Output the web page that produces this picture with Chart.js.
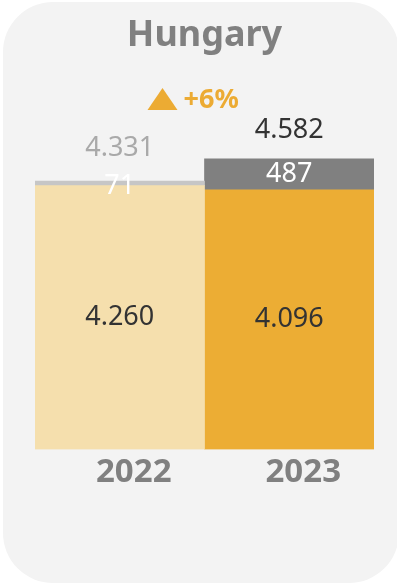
<!DOCTYPE html>
<html>
<head>
<meta charset="utf-8">
<script src="https://cdn.jsdelivr.net/npm/chart.js@4"></script>
<style>
  html, body { margin: 0; padding: 0; background: #ffffff; }
  #wrap { position: relative; width: 397px; height: 584px; overflow: hidden; }
  #card {
    position: absolute; left: 3px; top: 2px; width: 396px; height: 581px;
    background: #f3f3f3; border-radius: 50px;
  }
  #holder { position: absolute; left: 0; top: 0; width: 397px; height: 584px; }
</style>
</head>
<body>
<div id="wrap">
  <div id="card"></div>
  <div id="holder"><canvas id="chart"></canvas></div>
</div>
<script>
// Hungary: base volume plus the additional part, per year
const countryName = 'Hungary';
const years = ['2022', '2023'];
const baseValues = [4260, 4096];
const extraValues = [71, 487];
const totals = [4331, 4582];
const changeLabel = '+6%';

const baseColors = ['#f5dfad', '#ecad34'];
const extraColors = ['#c6c6c6', '#808080'];
const totalColors = ['#a9a9a9', '#333333'];

const fmt = v => v.toLocaleString('de-DE');
const FONT = "'Noto Sans', 'Open Sans', sans-serif";

// each year has its own value axis (y for 2022, y2 for 2023)
const axisFor = ['y', 'y2'];
const datasets = [];
years.forEach((yr, i) => {
  const only = arr => years.map((_, j) => (j === i ? arr[i] : null));
  datasets.push({
    label: 'base ' + yr, data: only(baseValues), yAxisID: axisFor[i],
    backgroundColor: baseColors[i], kind: 'base', year: i
  });
  datasets.push({
    label: 'extra ' + yr, data: only(extraValues), yAxisID: axisFor[i],
    backgroundColor: extraColors[i], kind: 'extra', year: i
  });
});

const valueLabels = {
  id: 'valueLabels',
  afterDatasetsDraw(chart) {
    const ctx = chart.ctx;
    ctx.save();
    ctx.textAlign = 'center';
    chart.data.datasets.forEach((ds, di) => {
      const meta = chart.getDatasetMeta(di);
      const i = ds.year;
      const bar = meta.data[i];
      if (!bar) return;
      const top = Math.min(bar.y, bar.base);
      const bottom = Math.max(bar.y, bar.base);
      const mid = (top + bottom) / 2;
      ctx.textBaseline = 'middle';
      if (ds.kind === 'base') {
        ctx.font = '400 27px ' + FONT;
        ctx.fillStyle = '#333333';
        ctx.fillText(fmt(baseValues[i]), bar.x, mid);
      } else {
        ctx.font = '400 27px ' + FONT;
        ctx.fillStyle = '#ffffff';
        ctx.fillText(fmt(extraValues[i]), bar.x, i === 0 ? mid + 3 : mid);
        ctx.textBaseline = 'alphabetic';
        ctx.fillStyle = totalColors[i];
        ctx.fillText(fmt(totals[i]), bar.x, top - (i === 0 ? 25 : 21));
      }
    });
    // change marker between the two years
    const x0 = chart.chartArea.left + (chart.chartArea.right - chart.chartArea.left) / 2 - 57;
    const yTop = 88, yBot = 110;
    ctx.fillStyle = '#ecab33';
    ctx.beginPath();
    ctx.moveTo(x0, yBot);
    ctx.lineTo(x0 + 15, yTop);
    ctx.lineTo(x0 + 30, yBot);
    ctx.closePath();
    ctx.fill();
    ctx.font = '700 27px ' + FONT;
    ctx.textAlign = 'left';
    ctx.textBaseline = 'alphabetic';
    ctx.fillText(changeLabel, x0 + 36, 108);
    ctx.restore();
  }
};

new Chart(document.getElementById('chart'), {
  type: 'bar',
  data: { labels: years, datasets },
  options: {
    responsive: true,
    maintainAspectRatio: false,
    animation: false,
    layout: { padding: { left: 35, right: 23, top: 0, bottom: 89 } },
    datasets: { bar: { categoryPercentage: 1, barPercentage: 1, borderWidth: 0 } },
    plugins: {
      legend: { display: false },
      tooltip: { enabled: false },
      title: {
        display: true, text: countryName, color: '#808080',
        font: { family: FONT, size: 36, weight: '700' },
        padding: { top: 14, bottom: 13 }
      }
    },
    scales: {
      x: {
        stacked: true,
        grid: { display: false, drawTicks: false },
        border: { display: false },
        ticks: {
          color: '#808080', padding: 3, labelOffset: 14,
          font: { family: FONT, size: 33, weight: '700' }
        }
      },
      y: { stacked: true, display: false, min: 0, max: 6123 },
      y2: { stacked: true, display: false, min: 0, max: 5983 }
    }
  },
  plugins: [valueLabels]
});
</script>
</body>
</html>
